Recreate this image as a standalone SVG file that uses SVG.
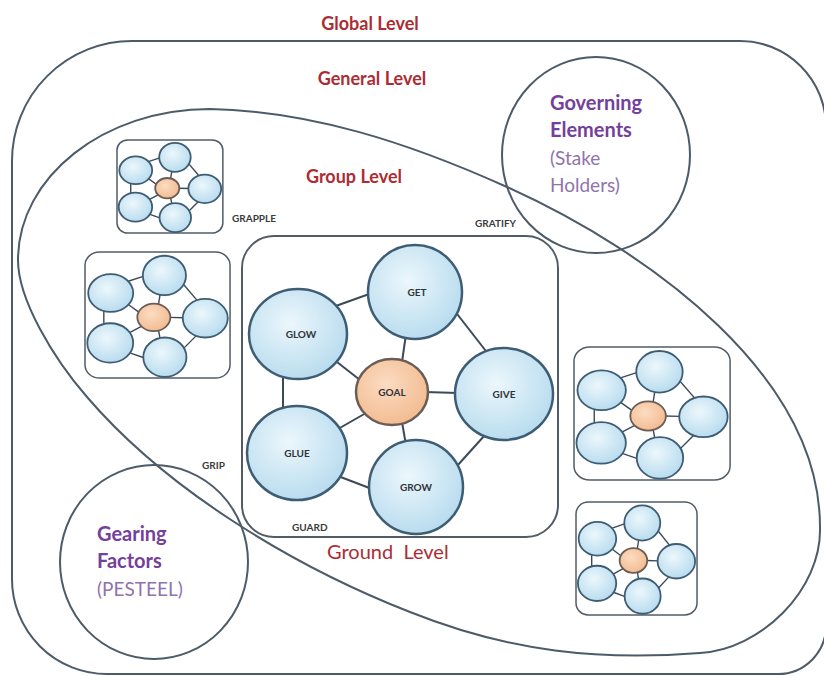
<svg xmlns="http://www.w3.org/2000/svg" width="824" height="676" viewBox="0 0 824 676">
<defs>
<radialGradient id="gBlue" cx="0.42" cy="0.38" r="0.7">
<stop offset="0" stop-color="#ecf7fc"/>
<stop offset="1" stop-color="#b3d9ed"/>
</radialGradient>
<radialGradient id="gOrange" cx="0.42" cy="0.38" r="0.7">
<stop offset="0" stop-color="#fcdcc2"/>
<stop offset="1" stop-color="#f1b88c"/>
</radialGradient>
<style>
.frame{fill:none;stroke:#4d5b69;stroke-width:2}
.lvl{font-family:Lato,"Liberation Sans",sans-serif;font-weight:700;font-size:18px;fill:#ad2c33;text-anchor:middle}
.pb{font-family:Lato,"Liberation Sans",sans-serif;font-weight:700;font-size:20px;fill:#74409a}
.pr{font-family:Lato,"Liberation Sans",sans-serif;font-weight:400;font-size:19px;fill:#8f73ad}
.tag{font-family:Lato,"Liberation Sans",sans-serif;font-weight:700;font-size:10px;fill:#3b3b3b}
.node{fill:url(#gBlue);stroke:#3e5d74;stroke-width:2.5}
.goal{fill:url(#gOrange);stroke:#6b5d55;stroke-width:2.5}
.box{fill:none;stroke:#525c67;stroke-width:2}
.edge{stroke:#3c4a58;stroke-width:2;fill:none}
.nl{font-family:Lato,"Liberation Sans",sans-serif;font-weight:700;font-size:10px;fill:#2f3438;text-anchor:middle}
.mn{fill:url(#gBlue);stroke:#3e5d74;stroke-width:1.8;vector-effect:non-scaling-stroke}
.mg{fill:url(#gOrange);stroke:#6b5d55;stroke-width:1.8;vector-effect:non-scaling-stroke}
.mb{fill:none;stroke:#525c67;stroke-width:1.5;vector-effect:non-scaling-stroke}
.me{stroke:#3c4a58;stroke-width:1.4;fill:none;vector-effect:non-scaling-stroke}
</style>
<g id="mini">
<rect class="mb" x="0" y="0" width="316" height="301" rx="32"/>
<g>
<line class="me" x1="91" y1="71" x2="130" y2="57"/>
<line class="me" x1="212" y1="74" x2="247" y2="119"/>
<line class="me" x1="243" y1="199" x2="215" y2="230"/>
<line class="me" x1="96" y1="240" x2="130" y2="253"/>
<line class="me" x1="41" y1="138" x2="41" y2="175"/>
<line class="me" x1="160" y1="126" x2="164" y2="98"/>
<line class="me" x1="183" y1="156" x2="216" y2="157"/>
<line class="me" x1="160" y1="186" x2="164" y2="209"/>
<line class="me" x1="124" y1="177" x2="96" y2="193"/>
<line class="me" x1="118" y1="144" x2="95" y2="126"/>
</g>
<ellipse class="mn" cx="173" cy="56" rx="47" ry="47"/>
<ellipse class="mn" cx="56" cy="98" rx="49" ry="45"/>
<ellipse class="mg" cx="150" cy="156" rx="36" ry="33"/>
<ellipse class="mn" cx="262" cy="158" rx="49" ry="46"/>
<ellipse class="mn" cx="55" cy="217" rx="50" ry="47"/>
<ellipse class="mn" cx="174" cy="251" rx="47" ry="47"/>
</g>
</defs>

<g id="global-level">
<path class="frame" d="M 132,41 H 740 A 86,86 0 0 1 826,127 V 626 A 48,48 0 0 1 778,674 H 107 A 95,95 0 0 1 12,579 V 161 A 120,120 0 0 1 132,41 Z"/>
<text class="lvl" x="370" y="30">Global Level</text>
</g>

<g id="general-level">
<text class="lvl" x="372" y="85">General Level</text>
</g>

<g id="group-level">
<path class="frame" d="M 210,109 C 310,111 407,142 507,187 C 653,253 820,377 820,527 C 822,590 760,650 700,653 C 600,661 510,652 410,612 C 290,565 165,488 87,397 C 54,359 18,300 18,260 C 18,177 104,109 210,109 Z"/>
<text class="lvl" x="354" y="183">Group Level</text>
</g>

<g id="ground-level">
<text x="327" y="559" xml:space="preserve" style="font-family:Lato,'Liberation Sans',sans-serif;font-weight:400;font-size:20px;fill:#ad2c33">Ground  Level</text>
</g>

<g id="governing-elements">
<ellipse class="frame" cx="596" cy="155" rx="94" ry="98"/>
<text class="pb" x="550" y="110">Governing</text>
<text class="pb" x="550" y="137">Elements</text>
<text class="pr" x="550" y="165">(Stake</text>
<text class="pr" x="550" y="192">Holders)</text>
</g>

<g id="gearing-factors">
<ellipse class="frame" cx="154" cy="562" rx="94" ry="97"/>
<text class="pb" x="97" y="541">Gearing</text>
<text class="pb" x="97" y="568">Factors</text>
<text class="pr" x="97" y="596">(PESTEEL)</text>
</g>

<g id="grapple">
<use href="#mini" transform="translate(117,140) scale(0.335,0.309)"/>
<text class="tag" x="232" y="222">GRAPPLE</text>
</g>
<g id="cluster-left">
<use href="#mini" transform="translate(85,252) scale(0.459,0.419)"/>
</g>
<g id="cluster-right">
<use href="#mini" transform="translate(574,347) scale(0.494,0.442)"/>
</g>
<g id="cluster-right-bottom">
<use href="#mini" transform="translate(576,502) scale(0.383,0.375)"/>
</g>

<text class="tag" x="475" y="227">GRATIFY</text>
<text class="tag" x="202" y="469">GRIP</text>

<g id="guard" transform="translate(242,236)">
<rect class="box" x="0" y="0" width="316" height="301" rx="32"/>
<text class="tag" x="50" y="295">GUARD</text>
<g id="connectors">
<line class="edge" x1="91" y1="71" x2="130" y2="57"/>
<line class="edge" x1="212" y1="74" x2="247" y2="119"/>
<line class="edge" x1="243" y1="199" x2="215" y2="230"/>
<line class="edge" x1="96" y1="240" x2="130" y2="253"/>
<line class="edge" x1="41" y1="138" x2="41" y2="175"/>
<line class="edge" x1="160" y1="126" x2="164" y2="98"/>
<line class="edge" x1="183" y1="156" x2="216" y2="157"/>
<line class="edge" x1="160" y1="186" x2="164" y2="209"/>
<line class="edge" x1="124" y1="177" x2="96" y2="193"/>
<line class="edge" x1="118" y1="144" x2="95" y2="126"/>
</g>
<g id="get"><ellipse class="node" cx="173" cy="56" rx="47" ry="47"/><text class="nl" x="175" y="60">GET</text></g>
<g id="glow"><ellipse class="node" cx="56" cy="98" rx="49" ry="45"/><text class="nl" x="59" y="102">GLOW</text></g>
<g id="goal"><ellipse class="goal" cx="150" cy="156" rx="36" ry="33"/><text class="nl" x="150" y="160">GOAL</text></g>
<g id="give"><ellipse class="node" cx="262" cy="158" rx="49" ry="46"/><text class="nl" x="262" y="162">GIVE</text></g>
<g id="glue"><ellipse class="node" cx="55" cy="217" rx="50" ry="47"/><text class="nl" x="55" y="221">GLUE</text></g>
<g id="grow"><ellipse class="node" cx="174" cy="251" rx="47" ry="47"/><text class="nl" x="174" y="255">GROW</text></g>
</g>
</svg>
